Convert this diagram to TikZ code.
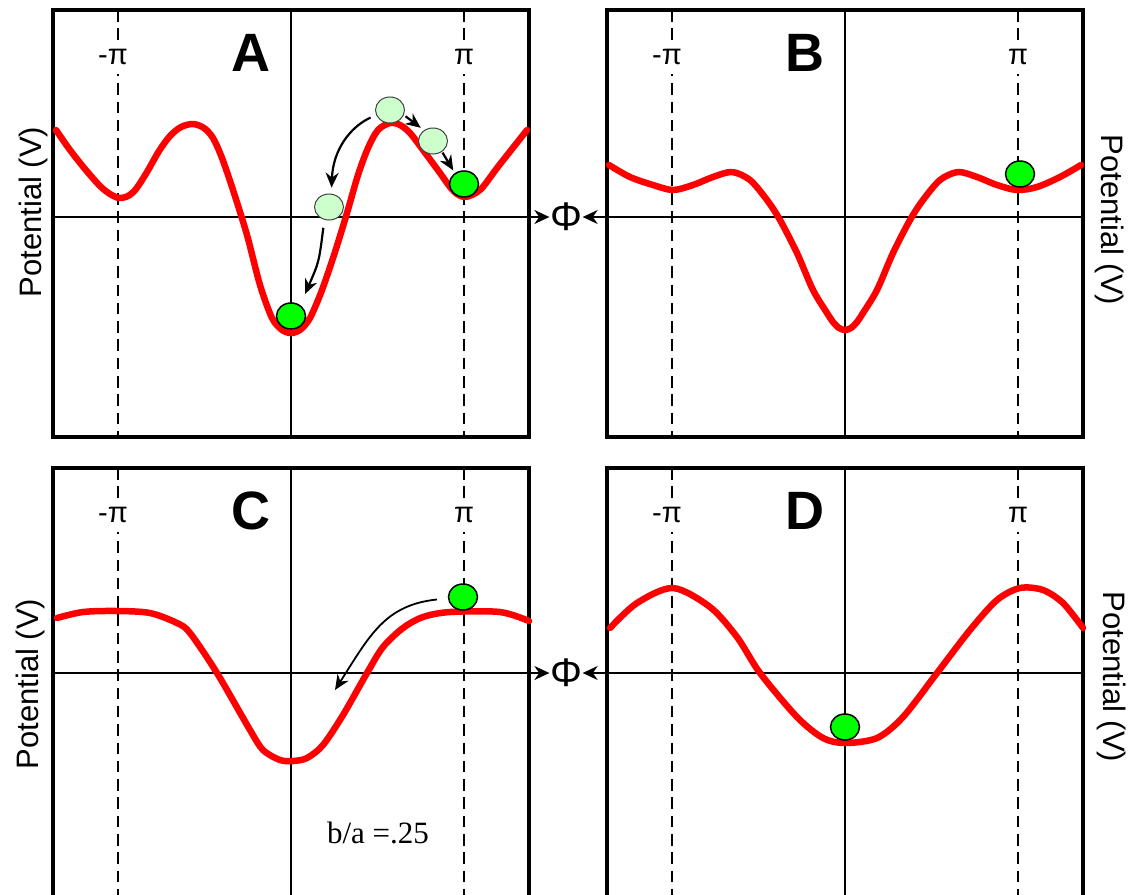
\documentclass[tikz,border=0pt]{standalone}
\usepackage{fontspec}
\setmainfont{Liberation Sans}
\newfontfamily\ratiofont{Liberation Serif}
\usepackage{tikz}
\usetikzlibrary{arrows.meta,shapes.geometric}
\definecolor{pRed}{RGB}{255,0,0}
\definecolor{pBall}{RGB}{0,255,0}
\definecolor{pGhost}{RGB}{204,255,204}
\tikzset{
  panelframe/.style={draw=black, line width=3.5pt},
  zeroline/.style={draw=black, line width=1.6pt},
  piline/.style={draw=black, line width=1.8pt, dash pattern=on 11.5pt off 6.8pt},
  phiaxis/.style={-{Stealth[length=15pt,width=14pt]}, draw=black, line width=2pt},
  pot/.style={draw=pRed, line width=6.5pt, line join=round, line cap=round},
  ball/.style={ellipse, draw=black, line width=1.5pt, fill=pBall,
               minimum width=29pt, minimum height=26pt, inner sep=0pt},
  ghost/.style={ball, fill=pGhost, draw=black!75, line width=1pt},
  roll/.style={-{Stealth[length=15pt,width=13pt]}, draw=black, line width=2.2pt},
  pilab/.style={font=\fontsize{29}{29}\selectfont, fill=white,
                inner xsep=3pt, inner ysep=9pt},
  paneltag/.style={font=\fontsize{54}{54}\selectfont\bfseries, inner sep=0pt},
  ylab/.style={font=\fontsize{31}{31}\selectfont, inner sep=0pt},
  philab/.style={font=\fontsize{40}{40}\selectfont, inner sep=0.5pt},
  ratio/.style={font=\ratiofont\fontsize{31}{31}\selectfont},
}
% #1 name, #2 left x, #3 top y, #4 bottom y, #5 letter
\newcommand{\PotPanel}[5]{%
  \draw[panelframe] (#2,#3) rectangle ({#2+476},#4);
  \draw[zeroline] ({#2+238},#3) -- ({#2+238},#4);
  \draw[piline] ({#2+65},#3) -- ({#2+65},#4);
  \draw[piline] ({#2+411},#3) -- ({#2+411},#4);
  \node[pilab] (#1mpi) at ({#2+60},{#3+47}) {-π};
  \node[pilab] (#1pi) at ({#2+411},{#3+47}) {π};
  \node[paneltag] (#1tag) at ({#2+198},{#3+43}) {#5};}

\begin{document}
\begin{tikzpicture}[x=1pt,y=-1pt]
  \useasboundingbox (0,0) rectangle (1129,894);
  \clip (0,0) rectangle (1129,894);

  \PotPanel{A}{53}{10}{437}{A}
  \PotPanel{B}{607}{10}{437}{B}
  \PotPanel{C}{53}{468}{905}{C}
  \PotPanel{D}{607}{468}{905}{D}

  \node[ylab, rotate=90]  (Ay) at (33,212)   {Potential (V)};
  \node[ylab, rotate=-90] (By) at (1110,220) {Potential (V)};
  \node[ylab, rotate=90]  (Cy) at (30,684)   {Potential (V)};
  \node[ylab, rotate=-90] (Dy) at (1112,677) {Potential (V)};

  % phase axes meeting at the shared Phi labels
  \node[philab] (phiU) at (566,217) {Φ};
  \node[philab] (phiL) at (566,673) {Φ};
  \coordinate (axA) at (53,217);
  \coordinate (axB) at (1083,217);
  \coordinate (axC) at (53,673);
  \coordinate (axD) at (1083,673);
  \draw[phiaxis] (axA) -- (phiU);
  \draw[phiaxis] (axB) -- (phiU);
  \draw[phiaxis] (axC) -- (phiL);
  \draw[phiaxis] (axD) -- (phiL);

  % potentials
  \draw[pot] plot[smooth] coordinates {(56,130) (70,150) (85,169) (100,186)
    (110,194) (119,198) (128,196) (136,189) (147,172) (159,151) (170,136)
    (181,127) (193,124) (204,128) (213,138) (222,158) (233,190) (247,235)
    (260,285) (272,318) (282,330) (291,333) (300,330) (310,318) (322,290)
    (335,252) (347,213) (358,175) (368,148) (378,130) (390,123) (400,125)
    (410,133) (423,150) (440,173) (450,187) (457,194) (464,197) (472,195)
    (482,188) (497,168) (512,149) (527,130)};
  \draw[pot] plot[smooth] coordinates {(609,165) (630,177) (653,185) (673,190)
    (693,185) (713,177) (732,172) (750,180) (767,200) (780,220) (797,253)
    (813,290) (827,313) (833,322) (839,328) (845,330) (851,328) (857,322)
    (863,313) (877,290) (893,253) (910,220) (923,200) (940,180) (958,172)
    (977,177) (997,185) (1017,190) (1037,187) (1060,177) (1081,165)};
  \draw[pot] plot[smooth] coordinates {(57,618) (83,612) (117,611) (150,613)
    (177,623) (190,633) (217,673) (250,730) (263,750) (280,760) (293,761)
    (307,758) (323,745) (343,715) (367,673) (383,647) (403,628) (423,617)
    (450,612) (500,612) (529,621)};
  \draw[pot] plot[smooth] coordinates {(610,628) (637,603) (673,588) (710,607)
    (737,637) (760,673) (797,717) (823,738) (845,743) (877,738) (903,717)
    (937,673) (970,630) (997,600) (1020,588) (1043,590) (1063,603)
    (1083,628)};

  % balls
  \node[ghost] (lA1) at (390,110) {};
  \node[ghost] (lA2) at (433,141) {};
  \node[ghost] (lA3) at (329,207) {};
  \node[ball] (gA0) at (291,316) {};
  \node[ball] (gApi) at (464,184) {};
  \node[ball] (gB) at (1020,174) {};
  \node[ball] (gC) at (463,597) {};
  \node[ball] (gD) at (845,727) {};

  \draw[roll, shorten <=6pt, shorten >=6pt] (lA1.200)
    .. controls (350,127) and (333,150) .. (lA3.80);
  \draw[roll, shorten <=2pt, shorten >=4pt] (lA1.-20) -- (lA2.130);
  \draw[roll, shorten <=1pt, shorten >=3pt] (lA2.-50) -- (gApi.130);
  \draw[roll, shorten <=8pt, shorten >=12pt] (lA3.250)
    .. controls (319,262) .. (gA0.50);

  \coordinate (cTip) at (335,690);
  \draw[roll, line width=1.8pt, shorten <=11pt] (gC.185)
    .. controls (385,605) and (370,635) .. (cTip);

  \node[ratio] (ratioC) at (378,833) {b/a =.25};
\end{tikzpicture}
\end{document}
